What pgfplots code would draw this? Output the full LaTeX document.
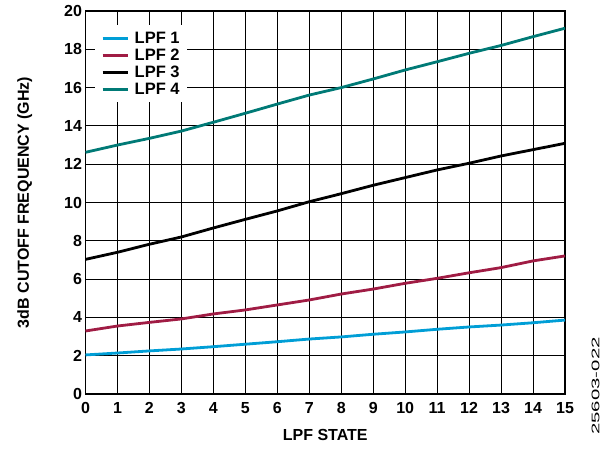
\documentclass[border=0pt]{standalone}
\usepackage{fontspec}
\setmainfont{Liberation Sans}
\usepackage{graphicx}
\usepackage{pgfplots}
\pgfplotsset{compat=1.18}
\definecolor{lpfone}{RGB}{0,158,214}
\definecolor{lpftwo}{RGB}{160,28,68}
\definecolor{lpfthree}{RGB}{0,0,0}
\definecolor{lpffour}{RGB}{0,122,118}
\begin{document}
\begin{tikzpicture}
\begin{axis}[
  name=ax,
  scale only axis,
  width=479.5bp, height=383bp,
  xmin=0, xmax=15, ymin=0, ymax=20,
  xtick={0,1,...,15}, ytick={0,2,...,20},
  grid=major,
  major grid style={black, line width=0.9bp},
  axis line style={black, line width=1.5bp},
  major tick length=0pt,
  /pgf/number format/assume math mode=true,
  tick label style={font=\fontsize{16bp}{18bp}\selectfont\bfseries},
  xticklabel style={yshift=-5bp},
  xlabel={LPF STATE},
  ylabel={3dB CUTOFF FREQUENCY (GHz)},
  label style={font=\fontsize{16bp}{18bp}\selectfont\bfseries},
  xlabel style={at={(axis description cs:0.5,0)}, anchor=north, inner sep=0pt, yshift=-35bp},
  ylabel style={at={(axis description cs:-0.111,0.5)}, anchor=south, inner sep=0pt},
  clip mode=individual,
  legend cell align=left,
  legend style={at={(0.0198,0.963)}, anchor=north west, draw=none, fill=white,
    font=\fontsize{16.5bp}{18bp}\selectfont\bfseries,
    inner xsep=6bp, inner ysep=6bp,
    nodes={inner sep=1bp, text height=11.5bp, text depth=0pt},
    row sep=3.5bp, column sep=4.5bp},
  legend image code/.code={\draw[#1, line width=3bp] (0bp,0bp) -- (25bp,0bp);},
]
\addplot[lpfone, line width=2.8bp] coordinates {(0,2.04) (1,2.14) (2,2.25) (3,2.35) (4,2.47) (5,2.60) (6,2.73) (7,2.87) (8,2.98) (9,3.12) (10,3.24) (11,3.38) (12,3.50) (13,3.60) (14,3.72) (15,3.86)};
\addplot[lpftwo, line width=2.8bp] coordinates {(0,3.29) (1,3.55) (2,3.74) (3,3.92) (4,4.18) (5,4.39) (6,4.65) (7,4.91) (8,5.22) (9,5.48) (10,5.78) (11,6.04) (12,6.33) (13,6.60) (14,6.95) (15,7.21)};
\addplot[lpfthree, line width=2.8bp] coordinates {(0,7.03) (1,7.40) (2,7.82) (3,8.20) (4,8.67) (5,9.12) (6,9.56) (7,10.04) (8,10.46) (9,10.90) (10,11.30) (11,11.70) (12,12.05) (13,12.43) (14,12.76) (15,13.09)};
\addplot[lpffour, line width=2.8bp] coordinates {(0,12.62) (1,13.00) (2,13.35) (3,13.73) (4,14.19) (5,14.66) (6,15.14) (7,15.61) (8,16.00) (9,16.45) (10,16.92) (11,17.35) (12,17.79) (13,18.20) (14,18.66) (15,19.10)};
\legend{LPF 1, LPF 2, LPF 3, LPF 4}
\node[rotate=90, inner sep=0pt] at (rel axis cs:1.0636,0.0209) {\scalebox{1.85}[1]{\fontsize{11bp}{12bp}\selectfont 25603-022}};
\end{axis}
\pgfresetboundingbox
\path[use as bounding box] ([shift={(-85.5bp,-55bp)}]ax.south west) rectangle ([shift={(42bp,11bp)}]ax.north east);
\end{tikzpicture}
\end{document}
